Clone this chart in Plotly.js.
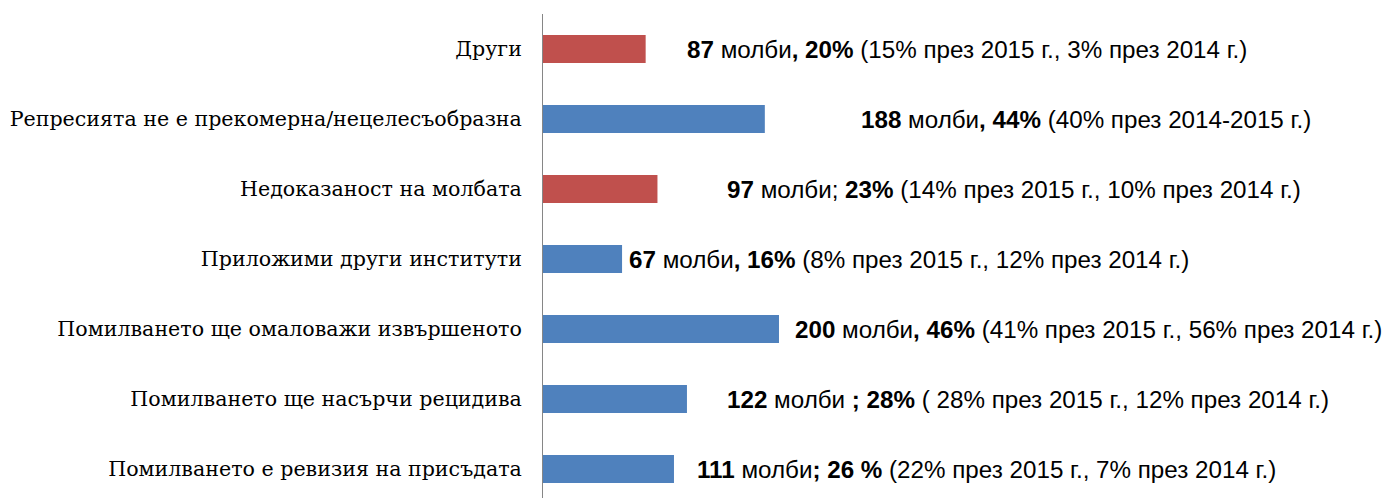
<!DOCTYPE html>
<html>
<head>
<meta charset="utf-8">
<script src="https://cdn.plot.ly/plotly-3.0.1.min.js"></script>
<style>html,body{margin:0;padding:0;background:#fff;}#chart{width:1398px;height:498px;}</style>
</head>
<body>
<div id="chart"></div>
<script>
// Data (top to bottom as shown)
const categories = [
  "Други",
  "Репресията не е прекомерна/нецелесъобразна",
  "Недоказаност на молбата",
  "Приложими други институти",
  "Помилването ще омаловажи извършеното",
  "Помилването ще насърчи рецидива",
  "Помилването е ревизия на присъдата"
];
const counts = [87, 188, 97, 67, 200, 122, 111];
const shares = ["20%", "44%", "23%", "16%", "46%", "28%", "26 %"];
const shareSeparators = [", ", ", ", "; ", ", ", ", ", " ; ", "; "];
const notes = [
  "(15% през 2015 г., 3% през 2014 г.)",
  "(40% през 2014-2015 г.)",
  "(14% през 2015 г., 10% през 2014 г.)",
  "(8% през 2015 г., 12% през 2014 г.)",
  "(41% през 2015 г., 56% през 2014 г.)",
  "( 28% през 2015 г., 12% през 2014 г.)",
  "(22% през 2015 г., 7% през 2014 г.)"
];
const highlighted = [true, false, true, false, false, false, false];

// Styling
const BLUE = "#4F81BD", RED = "#C0504D";
const barColors = highlighted.map(h => h ? RED : BLUE);
const labelShiftPx = [39, 94, 68, 5, 14, 38, 21];

function buildLabel(i) {
  if (i === 2) return "<b>" + counts[i] + "</b> молби; <b>" + shares[i] + "</b> " + notes[i];
  return "<b>" + counts[i] + "</b> молби<b>" + shareSeparators[i] + shares[i] + "</b> " + notes[i];
}

const trace = {
  type: "bar",
  orientation: "h",
  y: categories,
  x: counts,
  width: 0.4,
  marker: {color: barColors},
  hoverinfo: "none"
};

const annotations = categories.map((c, i) => ({
  x: counts[i], y: c, xref: "x", yref: "y",
  xanchor: "left", yanchor: "middle",
  xshift: labelShiftPx[i],
  text: buildLabel(i),
  showarrow: false,
  font: {family: "Liberation Sans, Arial, sans-serif", size: 24.2, color: "#000"}
}));

const layout = {
  width: 1398, height: 498,
  margin: {l: 543, r: 0, t: 14, b: 0, pad: 0},
  paper_bgcolor: "#fff", plot_bgcolor: "#fff",
  showlegend: false,
  bargap: 0.6,
  xaxis: {range: [0, 724.6], showgrid: false, zeroline: false, showticklabels: false, showline: false, fixedrange: true},
  yaxis: {
    type: "category",
    categoryorder: "array", categoryarray: categories,
    range: [6.414, -0.5],
    showgrid: false, zeroline: false,
    showline: true, linecolor: "#868686", linewidth: 1,
    ticks: "", ticklabelstandoff: 16,
    tickfont: {family: "DejaVu Serif, serif", size: 20.6, color: "#000"}
  },
  annotations: annotations
};

Plotly.newPlot("chart", [trace], layout, {staticPlot: true, displayModeBar: false});
</script>
</body>
</html>
